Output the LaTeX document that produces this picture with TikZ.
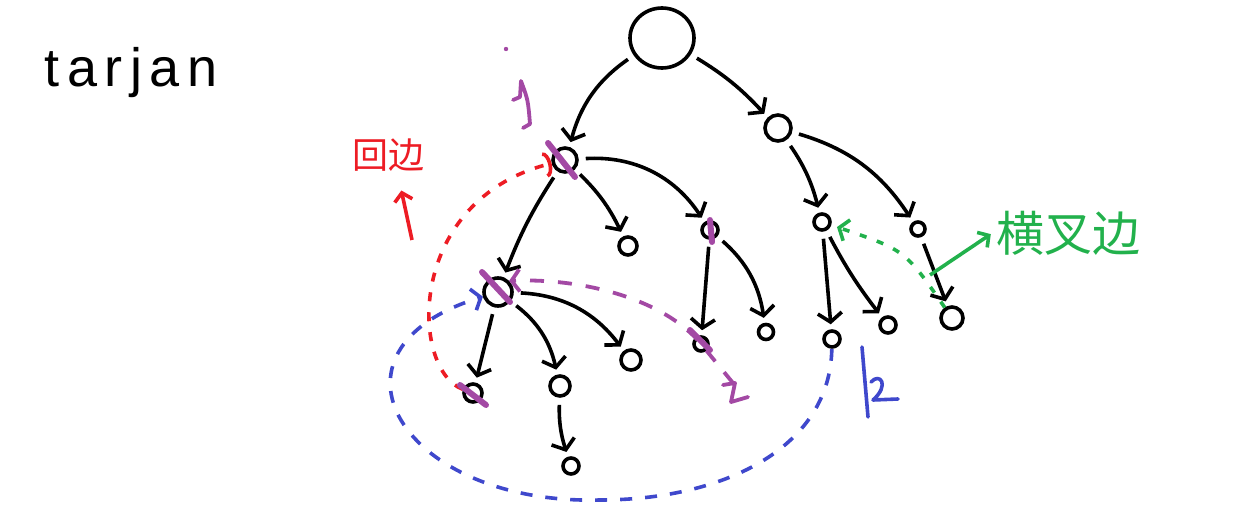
\documentclass[tikz,border=0pt]{standalone}
\usepackage{fontspec}
\setmainfont{Liberation Sans}
\newfontfamily\cjkfont{Noto Sans CJK SC}
\newfontfamily\handfont[LetterSpace=14]{Liberation Sans}
\usetikzlibrary{arrows.meta,shapes.geometric,calc}
\definecolor{bkred}{RGB}{237,28,36}
\definecolor{crgreen}{RGB}{34,177,76}
\definecolor{trpurple}{RGB}{163,73,164}
\definecolor{scblue}{RGB}{63,72,204}
\tikzset{
  vtx/.style={circle,draw,line width=3.6pt,inner sep=0pt,minimum size=#1},
  tedge/.style={-{Straight Barb[length=9pt,width=24pt]},line width=3.6pt,
    shorten <=7pt,shorten >=5pt},
  rdash/.style={bkred,line width=3.6pt,dash pattern=on 9pt off 11pt,
    -{Arc Barb[length=7pt,width=26pt]}},
  pdash/.style={trpurple,line width=3.8pt,dash pattern=on 14pt off 14pt},
  bdash/.style={scblue,line width=3.6pt,dash pattern=on 12pt off 13pt},
  gdash/.style={crgreen,line width=3.6pt,dash pattern=on 7pt off 11pt},
  barb/.style={-{Straight Barb[length=8pt,width=22pt]}},
  pmark/.style={trpurple,line width=6pt,line cap=round},
  pstroke/.style={trpurple,line width=3.8pt,line cap=round,line join=round},
  bstroke/.style={scblue,line width=3.6pt,line cap=round,line join=round},
  note/.style={line width=3.6pt,-{Straight Barb[length=8pt,width=18pt]}},
}
\begin{document}
\begin{tikzpicture}[x=1pt,y=-1pt]
  \useasboundingbox (0,0) rectangle (1260,511);
  \node[anchor=base,font=\handfont\fontsize{54}{54}\selectfont] (ttl) at (131,86) {tarjan};
  % tree
  \node[draw,ellipse,line width=3.6pt,minimum width=64pt,minimum height=60pt] (r) at (662,38) {};
  \node[vtx=24pt] (a) at (565,160) {};
  \node[vtx=26pt] (b) at (778,128) {};
  \node[vtx=28pt] (c) at (498,292) {};
  \node[vtx=18pt] (d) at (628,246) {};
  \node[vtx=16pt] (e) at (710,230) {};
  \node[vtx=18pt] (f) at (473,393) {};
  \node[vtx=20pt] (g) at (560,386) {};
  \node[vtx=20pt] (h) at (631,360) {};
  \node[vtx=16pt] (i) at (571,466) {};
  \node[vtx=14pt] (j) at (701,344) {};
  \node[vtx=15pt] (k) at (766,332) {};
  \node[vtx=16pt] (l) at (822,222) {};
  \node[vtx=14pt] (m) at (918,229) {};
  \node[vtx=16pt] (n) at (832,339) {};
  \node[vtx=16pt] (o) at (888,325) {};
  \node[vtx=22pt] (p) at (952,318) {};
  \draw[tedge] (r) to[bend right=20] (a);
  \draw[tedge] (r) to[bend left=8] (b);
  \draw[tedge] (a) to[bend right=6] (c);
  \draw[tedge] (a) to[bend left=10] (d);
  \draw[tedge] (a) to[bend left=30] (e);
  \draw[tedge] (c) -- (f);
  \draw[tedge] (c) to[bend left=20] (g);
  \draw[tedge] (c) to[bend left=25] (h);
  \draw[tedge] (g) to[bend right=10] (i);
  \draw[tedge] (e) -- (j);
  \draw[tedge] (e) to[bend left=20] (k);
  \draw[tedge] (b) to[bend left=10] (l);
  \draw[tedge] (b) to[bend left=20] (m);
  \draw[tedge] (l) -- (n);
  \draw[tedge] (l) to[bend right=5] (o);
  \draw[tedge] (m) -- (p);
  % back edge
  \node[text=bkred,font=\cjkfont\fontsize{36}{36}\selectfont] (hb) at (388,155) {回边};
  \draw[rdash] (f) .. controls (410,370) and (405,200) .. (a);
  \coordinate (hbt) at (412,240);
  \draw[note,bkred,shorten >=16pt] (hbt) -- ([xshift=10pt]hb.south);
  % cross edge
  \node[text=crgreen,font=\cjkfont\fontsize{48}{48}\selectfont] (hc) at (1068,233) {横叉边};
  \draw[gdash,barb,shorten >=6pt] (p) .. controls (905,250) .. (l);
  \coordinate (hct) at (930,275);
  \draw[note,crgreen,shorten >=2pt] (hct) -- (hc.west);
  % purple trail
  \draw[pstroke] (723,385) -- (735,383) -- (731,402) -- (748,397);
  \coordinate (pz) at (733,383);
  \draw[pdash,barb] (pz) -- (j.center) .. controls (665,300) and (585,278) .. (c.north east);
  \draw[pstroke] (513,100) -- (520,97) -- (521,81) .. controls (528,100) .. (530,124) -- (523,128);
  \fill[trpurple] (506,49) circle (2.2pt);
  \foreach \v/\x/\y/\u/\w in {a/-17/-17/10/17, c/-16/-20/12/10, f/-13/-8/13/12,
      j/-11/-14/9/6, e/2/12/0/-10}
    \draw[pmark] ([shift={(\x,\y)}]\v.center) -- ([shift={(\u,\w)}]\v.center);
  % blue loop
  \coordinate (bb) at (600,500);
  \draw[bdash,barb] (n) .. controls (830,450) and (720,500) .. (bb)
    .. controls (400,505) and (310,350) .. (c);
  \draw[bstroke] (862,347) -- (868,417);
  \draw[bstroke] (871,382) .. controls (880,372) and (890,385) .. (873,400) -- (898,399);
\end{tikzpicture}
\end{document}
